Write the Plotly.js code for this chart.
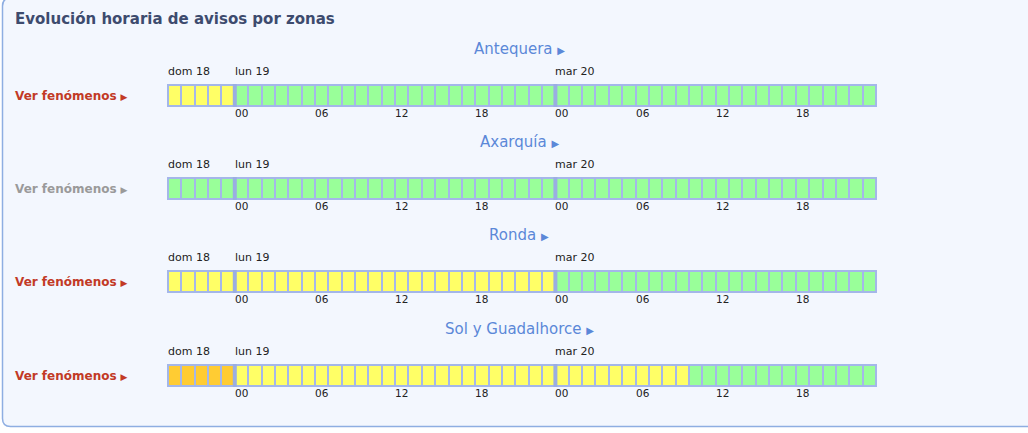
<!DOCTYPE html>
<html><head><meta charset="utf-8">
<script src="https://cdn.plot.ly/plotly-3.0.1.min.js"></script>
<style>html,body{margin:0;padding:0;background:#fff}#chart{width:1028px;height:433px}</style>
</head><body><div id="chart"></div>
<script>
// ---- data ----
const chartTitle = 'Evolución horaria de avisos por zonas';
const zones = ['Antequera', 'Axarquía', 'Ronda', 'Sol y Guadalhorce'];
const linkLabel = 'Ver fenómenos';
const linkActive = [true, false, true, true];
const days = ['dom 18', 'lun 19', 'mar 20'];
const dayStart = [0, 5, 29];          // slot index where each day starts
const daySeparators = [4.5, 28.5];
const tickLabels = ['00', '06', '12', '18', '00', '06', '12', '18'];
const tickSlots = [5, 11, 17, 23, 29, 35, 41, 47];
// hourly slots: dom 18 19h..23h, lun 19 00h..23h, mar 20 00h..23h
const slots = [0,1,2,3,4,
  5,6,7,8,9,10,11,12,13,14,15,16,17,18,19,20,21,22,23,24,25,26,27,28,
  29,30,31,32,33,34,35,36,37,38,39,40,41,42,43,44,45,46,47,48,49,50,51,52];
// warning level per slot: 0 = green, 1 = yellow, 2 = orange
const levelAntequera = [1,1,1,1,1,
  0,0,0,0,0,0,0,0,0,0,0,0,0,0,0,0,0,0,0,0,0,0,0,0,
  0,0,0,0,0,0,0,0,0,0,0,0,0,0,0,0,0,0,0,0,0,0,0,0];
const levelAxarquia = [0,0,0,0,0,
  0,0,0,0,0,0,0,0,0,0,0,0,0,0,0,0,0,0,0,0,0,0,0,0,
  0,0,0,0,0,0,0,0,0,0,0,0,0,0,0,0,0,0,0,0,0,0,0,0];
const levelRonda = [1,1,1,1,1,
  1,1,1,1,1,1,1,1,1,1,1,1,1,1,1,1,1,1,1,1,1,1,1,1,
  0,0,0,0,0,0,0,0,0,0,0,0,0,0,0,0,0,0,0,0,0,0,0,0];
const levelSol = [2,2,2,2,2,
  1,1,1,1,1,1,1,1,1,1,1,1,1,1,1,1,1,1,1,1,1,1,1,1,
  1,1,1,1,1,1,1,1,1,1,0,0,0,0,0,0,0,0,0,0,0,0,0,0];
const levels = [levelAntequera, levelAxarquia, levelRonda, levelSol];

// ---- layout helpers ----
const W = 1028, H = 433;
const FONT = 'DejaVu Sans, Verdana, sans-serif';
const X = p => p / W;
const Y = p => 1 - p / H;
const barTop = [84, 177, 270, 364];
const barH = 23;
const barLeft = 167, barRight = 877;
const BORDER = '#a4b7e9';
const colorscale = [[0, '#99ff99'], [0.3333, '#99ff99'], [0.3333, '#ffff66'],
  [0.6667, '#ffff66'], [0.6667, '#ffcc33'], [1, '#ffcc33']];

const data = [];
const layout = {
  width: W, height: H,
  margin: {l: 0, r: 0, t: 0, b: 0},
  paper_bgcolor: '#f3f7fe',
  plot_bgcolor: BORDER,
  showlegend: false,
  font: {family: FONT},
  annotations: [],
  shapes: []
};

// container box: white outside area + border line
const bx0 = 2.5, bx1 = 1040, by0 = -2, by1 = 426.5, r = 8;
layout.shapes.push({
  type: 'path', xref: 'paper', yref: 'paper', layer: 'below',
  path: `M ${X(-5)},${Y(-10)} L ${X(bx0)},${Y(-10)} L ${X(bx0)},${Y(by0 + r)} Q ${X(bx0)},${Y(by0)} ${X(bx0 + r)},${Y(by0)} L ${X(bx0 + r)},${Y(-10)} L ${X(bx0)},${Y(-10)} L ${X(bx0)},${Y(by1 - r)} Q ${X(bx0)},${Y(by1)} ${X(bx0 + r)},${Y(by1)} L ${X(bx1)},${Y(by1)} L ${X(bx1)},${Y(H + 10)} L ${X(-5)},${Y(H + 10)} Z`,
  fillcolor: '#ffffff', line: {width: 0}
});
layout.shapes.push({
  type: 'path', xref: 'paper', yref: 'paper', layer: 'below',
  path: `M ${X(bx0)},${Y(by0 + r)} Q ${X(bx0)},${Y(by0)} ${X(bx0 + r)},${Y(by0)} L ${X(bx1)},${Y(by0)} L ${X(bx1)},${Y(by1)} L ${X(bx0 + r)},${Y(by1)} Q ${X(bx0)},${Y(by1)} ${X(bx0)},${Y(by1 - r)} Z`,
  fillcolor: 'rgba(0,0,0,0)', line: {color: '#8eaee2', width: 1.5}
});

layout.annotations.push({
  xref: 'paper', yref: 'paper', x: X(13), y: Y(19), xanchor: 'left', yanchor: 'middle',
  text: '<b>' + chartTitle + '</b>', showarrow: false,
  font: {size: 15, color: '#3d4b6e', family: FONT}
});

const ext = 0.075, yext = 2 / 19;
zones.forEach((zone, i) => {
  const sx = i === 0 ? '' : String(i + 1);
  const xa = 'x' + sx, ya = 'y' + sx;
  const top = barTop[i];
  data.push({
    type: 'heatmap', x: slots, y: [0], z: [levels[i]],
    xaxis: xa, yaxis: ya, zmin: 0, zmax: 2, colorscale: colorscale,
    showscale: false, xgap: 2, ygap: 0, hoverinfo: 'skip'
  });
  const axCommon = {showgrid: false, zeroline: false, showticklabels: false, ticks: '', fixedrange: true, showline: false};
  layout['xaxis' + sx] = Object.assign({}, axCommon, {
    domain: [X(barLeft), X(barRight)], range: [-0.5 - ext, slots.length - 0.5 + ext], anchor: ya
  });
  layout['yaxis' + sx] = Object.assign({}, axCommon, {
    domain: [Y(top + barH), Y(top)], range: [-0.5 - yext, 0.5 + yext], anchor: xa
  });
  daySeparators.forEach(d => layout.shapes.push({
    type: 'line', xref: xa, yref: ya, x0: d, x1: d, y0: -0.5 - yext, y1: 0.5 + yext,
    line: {color: '#9aaee2', width: 4}
  }));
  // zone name
  layout.annotations.push({
    xref: xa, yref: 'paper', x: (slots.length - 1) / 2, xshift: -3, y: Y(top - 35), xanchor: 'center', yanchor: 'middle',
    text: zone + ' <span style="font-size:10px">▶</span>', showarrow: false,
    font: {size: 15, color: '#5b88d8', family: FONT}
  });
  // day labels
  days.forEach((d, k) => layout.annotations.push({
    xref: xa, yref: 'paper', x: dayStart[k] - 0.5, xshift: -2, y: Y(top - 13), xanchor: 'left', yanchor: 'middle',
    text: d, showarrow: false, font: {size: 11, color: '#222222', family: FONT}
  }));
  // hour tick labels
  tickLabels.forEach((t, k) => layout.annotations.push({
    xref: xa, yref: 'paper', x: tickSlots[k] - 0.5, xshift: -2, y: Y(top + 29), xanchor: 'left', yanchor: 'middle',
    text: t, showarrow: false, font: {size: 10.5, color: '#222222', family: FONT}
  }));
  // link
  layout.annotations.push({
    xref: 'paper', yref: 'paper', x: X(13), y: Y(top + 12), xanchor: 'left', yanchor: 'middle',
    text: '<b>' + linkLabel + '</b> <span style="font-size:9px">▶</span>', showarrow: false,
    font: {size: 12, color: linkActive[i] ? '#c23a26' : '#9a9a9a', family: FONT}
  });
});

Plotly.newPlot('chart', data, layout, {displayModeBar: false, staticPlot: true});
</script></body></html>
